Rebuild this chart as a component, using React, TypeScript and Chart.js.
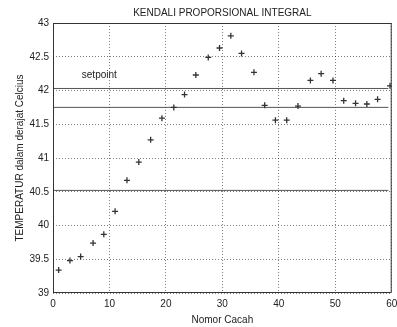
import React, { useEffect, useRef } from "react";
import { Chart, registerables } from "chart.js";

Chart.register(...registerables);

const titleText = "KENDALI PROPORSIONAL INTEGRAL";
const xTitle = "Nomor Cacah";
const yTitle = "TEMPERATUR dalam derajat Celcius";
const setpointLabel = "setpoint";

const sampleNo = [1.0, 3.0, 4.9, 7.1, 9.0, 11.0, 13.1, 15.2, 17.3, 19.3, 21.4, 23.3, 25.3, 27.5, 29.5, 31.5, 33.4, 35.6, 37.5, 39.4, 41.4, 43.4, 45.6, 47.5, 49.6, 51.5, 53.6, 55.6, 57.5, 59.7];
const temperature = [39.34, 39.48, 39.54, 39.74, 39.87, 40.21, 40.67, 40.94, 41.27, 41.59, 41.75, 41.94, 42.23, 42.49, 42.63, 42.81, 42.55, 42.27, 41.78, 41.56, 41.56, 41.77, 42.15, 42.25, 42.15, 41.85, 41.81, 41.8, 41.87, 42.07];
const refLines = [42.03, 41.75, 40.52];
const refLineX = [0, 59.4];
const setpointLabelPos = [5.1, 42.23];

const xRange = [0, 60, 10];
const yRange = [39, 43, 0.5];

const FONT = '"Liberation Sans", Arial, Helvetica, sans-serif';

const overlay = {
  id: "overlay",
  afterDatasetsDraw(chart: any) {
    const { ctx, chartArea: a, scales } = chart;
    ctx.save();
    ctx.strokeStyle = "#333";
    ctx.lineWidth = 1;
    ctx.strokeRect(a.left + 0.5, a.top + 0.5, a.right - a.left - 1, a.bottom - a.top - 1);
    ctx.fillStyle = "#222";
    ctx.font = `10px ${FONT}`;
    ctx.textAlign = "center";
    ctx.textBaseline = "middle";
    ctx.fillText(titleText, (a.left + a.right) / 2, 13);
    ctx.textAlign = "left";
    ctx.fillText(
      setpointLabel,
      scales.x.getPixelForValue(setpointLabelPos[0]),
      scales.y.getPixelForValue(setpointLabelPos[1])
    );
    ctx.restore();
  },
};

export default function App() {
  const ref = useRef<HTMLCanvasElement>(null);
  useEffect(() => {
    if (!ref.current) return;
    const lineSets = refLines.map((v) => ({
      type: "line" as const,
      data: refLineX.map((x) => ({ x, y: v })),
      borderColor: "#555",
      borderWidth: 1,
      pointRadius: 0,
      fill: false,
    }));
    const chart = new Chart(ref.current, {
      type: "scatter",
      data: {
        datasets: [
          {
            data: sampleNo.map((x, i) => ({ x, y: temperature[i] })),
            pointStyle: "cross",
            pointRadius: 3,
            borderColor: "#333",
            backgroundColor: "#333",
            borderWidth: 1.3,
          } as any,
          ...lineSets,
        ],
      },
      options: {
        animation: false,
        responsive: false,
        layout: { padding: { top: 23, right: 1, left: 0, bottom: 0 } },
        plugins: { legend: { display: false }, tooltip: { enabled: false }, title: { display: false } },
        scales: {
          x: {
            type: "linear",
            min: xRange[0],
            max: xRange[1],
            ticks: { stepSize: xRange[2], padding: 5, color: "#222", font: { family: FONT, size: 10 }, callback: (v: any) => String(Number(v)) },
            grid: { color: "rgba(0,0,0,0.5)", drawTicks: false },
            border: { display: false, dash: [1, 2] },
            title: { display: true, text: xTitle, color: "#222", font: { family: FONT, size: 10 }, padding: { top: 0, bottom: 1 } },
            afterFit: (s: any) => {
              s.height = 34;
              s.paddingLeft = 0;
              s.paddingRight = 0;
            },
          },
          y: {
            type: "linear",
            min: yRange[0],
            max: yRange[1],
            ticks: { stepSize: yRange[2], padding: 4, color: "#222", font: { family: FONT, size: 10 }, callback: (v: any) => String(Number(v)) },
            grid: { color: "rgba(0,0,0,0.5)", drawTicks: false },
            border: { display: false, dash: [1, 2] },
            title: { display: true, text: yTitle, color: "#222", font: { family: FONT, size: 10 }, padding: { top: 14, bottom: 0 } },
            afterFit: (s: any) => {
              s.width = 53;
              s.paddingTop = 0;
              s.paddingBottom = 0;
            },
          },
        },
      },
      plugins: [overlay],
    });
    return () => chart.destroy();
  }, []);
  return (
    <div style={{ position: "absolute", left: 0, top: 0, width: 397, height: 327, background: "#fff" }}>
      <canvas ref={ref} width={397} height={327} style={{ display: "block" }} />
    </div>
  );
}
